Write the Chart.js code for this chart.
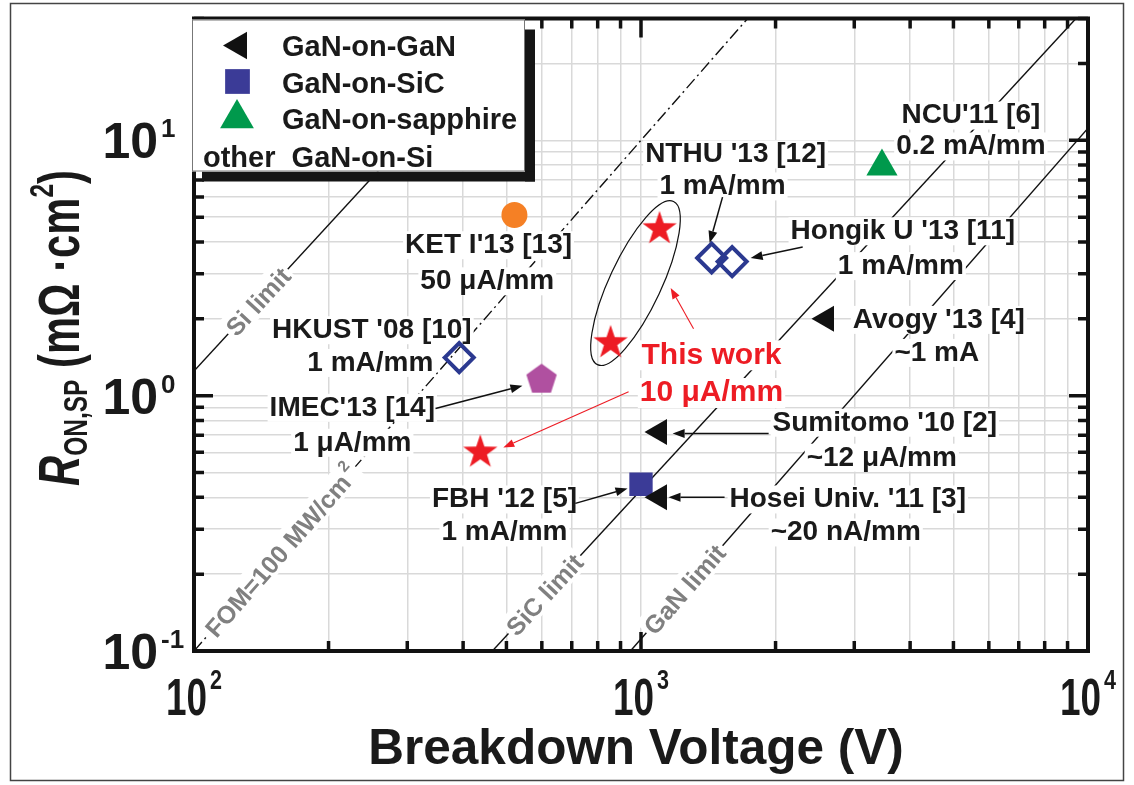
<!DOCTYPE html>
<html><head><meta charset="utf-8">
<script src="https://cdn.jsdelivr.net/npm/chart.js@4.4.1/dist/chart.umd.min.js"></script>
<style>html,body{margin:0;padding:0;background:#fff}#wrap{width:1134px;height:785px}</style>
</head><body><div id="wrap"><canvas id="c" width="1134" height="785"></canvas></div>
<script>
// ---------------- data ----------------
const ganOnGanV = [2600, 1100, 1100];      // Avogy, Sumitomo, Hosei
const ganOnGanR = [2.0, 0.72, 0.40];
const ganOnSicV = [1000];                  // FBH
const ganOnSicR = [0.45];
const ganOnSapphireV = [3460];             // NCU
const ganOnSapphireR = [7.9];
const ketV = [521];
const ketR = [5.1];
const openDiamondV = [392, 1439, 1599];    // HKUST, NTHU, Hongik
const openDiamondR = [1.41, 3.46, 3.35];
const imecV = [599];
const imecR = [1.155];
const thisWorkV = [1100, 855, 437];
const thisWorkR = [4.5, 1.61, 0.60];
const siLimitV = [100, 532];
const siLimitR = [1.25, 30];
const sicLimitV = [465, 9400];
const sicLimitR = [0.1, 30];
const ganLimitV = [947, 10000];
const ganLimitR = [0.1, 11.15];
const fomV = [100, 1732];
const fomR = [0.1, 30];
const xTicks = [100,200,300,400,500,600,700,800,900,1000,2000,3000,4000,5000,6000,7000,8000,9000,10000];
const yTicks = [0.1,0.2,0.3,0.4,0.5,0.6,0.7,0.8,0.9,1,2,3,4,5,6,7,8,9,10,20,30];
const xMajor = [100, 1000, 10000];
const xMajorExp = ['2', '3', '4'];
const yMajor = [0.1, 1, 10];
const yMajorExp = ['-1', '0', '1'];
const legendNames = ['GaN-on-GaN', 'GaN-on-SiC', 'GaN-on-sapphire', 'other  GaN-on-Si'];

// annotations (data coordinates)
const notes = [
  ["NCU'11 [6]", 5470, 12.75], ['0.2 mA/mm', 5470, 9.65],
  ["NTHU '13 [12]", 1628, 8.98], ['1 mA/mm', 1522, 6.73],
  ["KET I'13 [13]", 456, 3.96], ['50 \u03BCA/mm', 453, 2.86],
  ["Hongik U '13 [11]", 3852, 4.49], ['1 mA/mm', 3813, 3.28],
  ["Avogy '13 [4]", 4638, 2.02], ['~1 mA', 4590, 1.50],
  ["HKUST '08 [10]", 250, 1.84], ['1 mA/mm', 248, 1.37],
  ["IMEC'13 [14]", 226, 0.914], ['1 \u03BCA/mm', 226, 0.667],
  ["Sumitomo '10 [2]", 3511, 0.799], ['~12 \u03BCA/mm', 3457, 0.583],
  ["Hosei Univ. '11 [3]", 2901, 0.40], ['~20 nA/mm', 2871, 0.297],
  ["FBH '12 [5]", 495, 0.40], ['1 mA/mm', 495, 0.297]
];
const redNotes = [['This work', 1438, 1.47], ['10 \u03BCA/mm', 1438, 1.046]];
const arrows = [
  [1522, 5.99, 1424, 3.96], [2300, 3.82, 1759, 3.46], [347, 0.89, 543, 1.094],
  [1930, 0.711, 1177, 0.711], [1538, 0.40, 1152, 0.40], [713, 0.3785, 933, 0.433]
];
const redArrows = [[1311, 1.827, 1165, 2.642], [938, 1.037, 492, 0.626]];
const ellipseCenter = [972, 2.76];
const lineLabels = [
  {t: 'Si limit', v: siLimitV, r: siLimitR, at: 139},
  {t: 'FOM=100 MW/cm', sup: '2', v: fomV, r: fomR, at: 157},
  {t: 'SiC limit', v: sicLimitV, r: sicLimitR, at: 608},
  {t: 'GaN limit', v: ganLimitV, r: ganLimitR, at: 1251}
];

// ---------------- styles ----------------
const RED = '#ed1c24', BLUE = '#2b3990', SQBLUE = '#3b3b97', GREEN = '#00994c', ORANGE = '#f58025', PURPLE = '#b050a0';
const FF = "'Liberation Sans', Arial, Helvetica, sans-serif";
const fnt = (s, st) => `${st || 'normal'} bold ${s}px ${FF}`;

function makeStar(R, r, color) {
  const c = document.createElement('canvas'); const s = Math.ceil(2 * R + 2); c.width = s; c.height = s;
  const g = c.getContext('2d'); g.translate(s / 2, s / 2); g.beginPath();
  for (let i = 0; i < 10; i++) { const a = -Math.PI / 2 + i * Math.PI / 5; const rr = i % 2 ? r : R; g.lineTo(rr * Math.cos(a), rr * Math.sin(a)); }
  g.closePath(); g.fillStyle = color; g.fill(); return c;
}
function makePoly(R, n, color) {
  const c = document.createElement('canvas'); const s = Math.ceil(2 * R + 2); c.width = s; c.height = s;
  const g = c.getContext('2d'); g.translate(s / 2, s / 2); g.beginPath();
  for (let i = 0; i < n; i++) { const a = -Math.PI / 2 + i * 2 * Math.PI / n; g.lineTo(R * Math.cos(a), R * Math.sin(a)); }
  g.closePath(); g.fillStyle = color; g.fill(); return c;
}
const starImg = makeStar(18, 7, RED);
const pentImg = makePoly(16, 5, PURPLE);

const pts = (V, R) => V.map((v, i) => ({x: v, y: R[i]}));
const lineDs = (V, R, dash) => ({data: pts(V, R), showLine: true, pointRadius: 0, borderColor: '#111', borderWidth: 1.4,
  borderDash: dash || [], order: 1, fill: false});
const markDs = (V, R, o) => Object.assign({data: pts(V, R), showLine: false, order: 0}, o);

const datasets = [
  lineDs(siLimitV, siLimitR), lineDs(sicLimitV, sicLimitR), lineDs(ganLimitV, ganLimitR), lineDs(fomV, fomR, [12, 4, 2, 4]),
  markDs(ganOnGanV, ganOnGanR, {pointStyle: 'triangle', rotation: -90, radius: 15, backgroundColor: '#111', borderColor: '#111', borderWidth: 0}),
  markDs(ganOnSicV, ganOnSicR, {pointStyle: 'rect', radius: 16.5, backgroundColor: SQBLUE, borderColor: SQBLUE, borderWidth: 0}),
  markDs(ganOnSapphireV, ganOnSapphireR, {pointStyle: 'triangle', radius: 18, backgroundColor: GREEN, borderColor: GREEN, borderWidth: 0}),
  markDs(ketV, ketR, {pointStyle: 'circle', radius: 13, backgroundColor: ORANGE, borderColor: ORANGE, borderWidth: 0}),
  markDs(openDiamondV, openDiamondR, {pointStyle: 'rectRot', radius: 14.5, backgroundColor: 'rgba(0,0,0,0)', borderColor: BLUE, borderWidth: 4}),
  markDs(imecV, imecR, {pointStyle: pentImg, radius: 15}),
  markDs(thisWorkV, thisWorkR, {pointStyle: starImg, radius: 17})
];

function arrow(ctx, x1, y1, x2, y2, color, lw, head, hw) {
  const a = Math.atan2(y2 - y1, x2 - x1);
  const hx = x2 - head * Math.cos(a), hy = y2 - head * Math.sin(a);
  ctx.strokeStyle = color; ctx.fillStyle = color; ctx.lineWidth = lw;
  ctx.beginPath(); ctx.moveTo(x1, y1); ctx.lineTo(hx, hy); ctx.stroke();
  ctx.beginPath(); ctx.moveTo(x2, y2);
  ctx.lineTo(hx + hw * Math.sin(a), hy - hw * Math.cos(a));
  ctx.lineTo(hx - hw * Math.sin(a), hy + hw * Math.cos(a));
  ctx.closePath(); ctx.fill();
}
function boxText(ctx, t, x, y, size, color) {
  ctx.font = fnt(size);
  const w = ctx.measureText(t).width;
  const base = y + size * 0.358;
  ctx.fillStyle = '#fff';
  ctx.fillRect(x - w / 2 - 2, base - size * 0.78, w + 4, size * 1.0);
  ctx.fillStyle = color; ctx.textAlign = 'center'; ctx.textBaseline = 'alphabetic';
  ctx.fillText(t, x, base);
}

const annotPlugin = {
  id: 'annot',
  afterDatasetDraw(chart, args) {
    if (args.index !== 0) return;
    const ctx = chart.ctx, X = chart.scales.x, Y = chart.scales.y;
    const px = v => X.getPixelForValue(v), py = v => Y.getPixelForValue(v);
    ctx.save();
    lineLabels.forEach(l => {
      const x1 = px(l.v[0]), y1 = py(l.r[0]), x2 = px(l.v[1]), y2 = py(l.r[1]);
      const ang = Math.atan2(y2 - y1, x2 - x1);
      const f = (Math.log10(l.at) - Math.log10(l.v[0])) / (Math.log10(l.v[1]) - Math.log10(l.v[0]));
      const cx = x1 + f * (x2 - x1), cy = y1 + f * (y2 - y1);
      const size = 25;
      ctx.save(); ctx.translate(cx, cy); ctx.rotate(ang);
      ctx.font = fnt(size); const w = ctx.measureText(l.t).width;
      let ws = 0; if (l.sup) { ctx.font = fnt(16); ws = ctx.measureText(l.sup).width + 3; }
      const tw = w + ws;
      ctx.fillStyle = '#fff'; ctx.fillRect(-tw / 2 - 3, -size * 0.6, tw + 6, size * 1.1);
      ctx.fillStyle = '#808080'; ctx.textAlign = 'left'; ctx.textBaseline = 'alphabetic';
      ctx.font = fnt(size); ctx.fillText(l.t, -tw / 2, size * 0.358);
      if (l.sup) { ctx.font = fnt(16); ctx.fillText(l.sup, -tw / 2 + w + 3, size * 0.358 - 13); }
      ctx.restore();
    });
    notes.forEach(n => boxText(ctx, n[0], px(n[1]), py(n[2]), 28, '#1a1a1a'));
    redNotes.forEach(n => boxText(ctx, n[0], px(n[1]), py(n[2]), 30, RED));
    arrows.forEach(a => arrow(ctx, px(a[0]), py(a[1]), px(a[2]), py(a[3]), '#111', 1.5, 12, 4.5));
    redArrows.forEach(a => arrow(ctx, px(a[0]), py(a[1]), px(a[2]), py(a[3]), RED, 1.1, 11, 4));
    ctx.beginPath();
    ctx.ellipse(px(ellipseCenter[0]), py(ellipseCenter[1]), 90, 26, -65 * Math.PI / 180, 0, 2 * Math.PI);
    ctx.strokeStyle = '#111'; ctx.lineWidth = 1.2; ctx.stroke();
    ctx.restore();
  }
};

const framePlugin = {
  id: 'frame',
  afterDraw(chart) {
    const ctx = chart.ctx, a = chart.chartArea, X = chart.scales.x, Y = chart.scales.y;
    ctx.save();
    ctx.strokeStyle = '#111'; ctx.lineWidth = 3.5; ctx.lineCap = 'butt';
    xTicks.forEach(v => {
      const x = X.getPixelForValue(v); const L = xMajor.includes(v) ? 19 : 10;
      ctx.beginPath(); ctx.moveTo(x, a.bottom); ctx.lineTo(x, a.bottom - L); ctx.moveTo(x, a.top); ctx.lineTo(x, a.top + L); ctx.stroke();
    });
    yTicks.forEach(v => {
      const y = Y.getPixelForValue(v); const L = yMajor.includes(v) ? 19 : 10;
      ctx.beginPath(); ctx.moveTo(a.left, y); ctx.lineTo(a.left + L, y); ctx.moveTo(a.right, y); ctx.lineTo(a.right - L, y); ctx.stroke();
    });
    ctx.lineWidth = 4; ctx.strokeRect(a.left, a.top, a.right - a.left, a.bottom - a.top);
    ctx.fillStyle = '#1a1a1a'; ctx.textBaseline = 'alphabetic'; ctx.textAlign = 'left';
    xMajor.forEach((v, i) => {
      const x = X.getPixelForValue(v);
      ctx.font = fnt(52); const w1 = ctx.measureText('10').width * 0.71;
      ctx.font = fnt(28); const w2 = ctx.measureText(xMajorExp[i]).width * 0.77;
      const x0 = x - (w1 + 3 + w2) / 2;
      ctx.save(); ctx.translate(x0, 715); ctx.scale(0.71, 1); ctx.font = fnt(52); ctx.fillText('10', 0, 0); ctx.restore();
      ctx.save(); ctx.translate(x0 + w1 + 3, 689); ctx.scale(0.77, 1); ctx.font = fnt(28); ctx.fillText(xMajorExp[i], 0, 0); ctx.restore();
    });
    yMajor.forEach((v, i) => {
      const y = Y.getPixelForValue(v);
      ctx.font = fnt(50); ctx.textAlign = 'right'; ctx.fillText('10', 158, y + 18);
      ctx.font = fnt(26); ctx.textAlign = 'left'; ctx.fillText(yMajorExp[i], 161, y - 3);
    });
    ctx.font = fnt(49.5); ctx.textAlign = 'center'; ctx.fillText('Breakdown Voltage (V)', 636, 764);
    const parts = [
      {t: 'R', f: fnt(58, 'italic'), dy: 0}, {t: 'ON,SP', f: fnt(34), dy: 8},
      {t: ' (m\u03A9 ', f: fnt(58), dy: 0}, {t: '\u00B7cm', f: fnt(58), dy: 0},
      {t: '2', f: fnt(34), dy: -26}, {t: ')', f: fnt(58), dy: 0}
    ];
    const k = 0.72; let total = 0;
    parts.forEach(p => { ctx.font = p.f; p.w = ctx.measureText(p.t).width; total += p.w; });
    ctx.save(); ctx.translate(58 + 0.358 * 58, 328); ctx.rotate(-Math.PI / 2); ctx.scale(k, 1);
    let xx = -total / 2; ctx.textAlign = 'left';
    parts.forEach(p => { ctx.font = p.f; ctx.fillText(p.t, xx, p.dy); xx += p.w; });
    ctx.restore();
    const L = a.left, T = a.top;
    ctx.fillStyle = '#151515';
    ctx.fillRect(L + 331, T + 11, 10, 152); ctx.fillRect(L + 8, T + 153, 333, 10);
    ctx.fillStyle = '#fff'; ctx.fillRect(L - 2, T + 1, 333, 152);
    ctx.strokeStyle = '#777'; ctx.lineWidth = 1; ctx.strokeRect(L - 1.5, T + 1.5, 332, 151);
    const H = Chart.helpers;
    ctx.fillStyle = '#111'; ctx.strokeStyle = '#111';
    H.drawPoint(ctx, {pointStyle: 'triangle', rotation: -90, radius: 16, borderWidth: 0}, L + 45, T + 27);
    ctx.fillStyle = SQBLUE;
    H.drawPoint(ctx, {pointStyle: 'rect', rotation: 0, radius: 17.5, borderWidth: 0}, L + 43.5, T + 63);
    ctx.fillStyle = GREEN;
    H.drawPoint(ctx, {pointStyle: 'triangle', rotation: 0, radius: 19.5, borderWidth: 0}, L + 43, T + 100);
    ctx.fillStyle = '#1a1a1a'; ctx.font = fnt(29); ctx.textAlign = 'left';
    ctx.fillText(legendNames[0], L + 88, T + 27 + 10.4);
    ctx.fillText(legendNames[1], L + 88, T + 64 + 10.4);
    ctx.fillText(legendNames[2], L + 88, T + 100 + 10.4);
    ctx.fillText(legendNames[3], L + 9, T + 138 + 10.4);
    ctx.strokeStyle = '#444'; ctx.lineWidth = 1.5; ctx.strokeRect(10.5, 3.5, 1113, 777);
    ctx.restore();
  }
};

new Chart(document.getElementById('c'), {
  type: 'scatter',
  data: {datasets},
  options: {
    responsive: false, animation: false, devicePixelRatio: 1,
    layout: {padding: {left: 194, top: 17, right: 46, bottom: 134}},
    plugins: {legend: {display: false}, tooltip: {enabled: false}},
    scales: {
      x: {type: 'logarithmic', min: 100, max: 10000,
        afterBuildTicks: s => { s.ticks = xTicks.map(v => ({value: v})); },
        afterFit: s => { s.height = 0; },
        ticks: {display: false}, border: {display: false},
        grid: {color: '#d9d9d9', lineWidth: 1.5, drawTicks: false}},
      y: {type: 'logarithmic', min: 0.1, max: 30,
        afterBuildTicks: s => { s.ticks = yTicks.map(v => ({value: v})); },
        afterFit: s => { s.width = 0; },
        ticks: {display: false}, border: {display: false},
        grid: {color: '#d9d9d9', lineWidth: 1.5, drawTicks: false}}
    }
  },
  plugins: [annotPlugin, framePlugin]
});
</script></body></html>
